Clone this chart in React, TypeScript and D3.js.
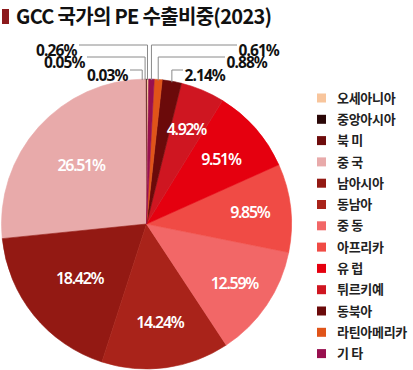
import * as d3 from 'd3';

// 2023 GCC PE export share by region (%), counter-clockwise from 12 o'clock
const categories = ['오세아니아', '중앙아시아', '북 미', '중 국', '남아시아', '동남아', '중 동', '아프리카', '유 럽', '튀르키예', '동북아', '라틴아메리카', '기 타'];
const shares = [0.26, 0.05, 0.03, 26.51, 18.42, 14.24, 12.59, 9.85, 9.51, 4.92, 2.14, 0.88, 0.61];
const colors = ['#f8c59c', '#2a0707', '#6e0c0c', '#e8aaaa', '#931913', '#a9231a', '#f26767', '#f04b45', '#e5000f', '#cf1621', '#6b0a0a', '#e05419', '#98104f'];

const title = 'GCC 국가의 PE 수출비중(2023)';

// layout
const W = 413;
const H = 370;
const cx = 146.5;
const cy = 224;
const R = 145;
const rot = 0.015;

// small slices are labelled outside with leader lines
const outside: Record<string, { ly: number; side: 'left' | 'right'; end: number; nudge: number }> = {
  '오세아니아': { ly: 45, side: 'left', end: 79, nudge: 0 },
  '중앙아시아': { ly: 57, side: 'left', end: 87, nudge: -1 },
  '북 미': { ly: 70, side: 'left', end: 130, nudge: -3.5 },
  '기 타': { ly: 45, side: 'right', end: 237, nudge: 0 },
  '라틴아메리카': { ly: 57, side: 'right', end: 225, nudge: 0 },
  '동북아': { ly: 70, side: 'right', end: 183, nudge: 0 },
};

// label distance from centre for the inside labels
const labelRadius: Record<string, number> = {
  '중 국': 88,
  '남아시아': 86,
  '동남아': 99,
  '중 동': 106,
  '아프리카': 104,
  '유 럽': 99,
  '튀르키예': 103,
};

const fmt = (v: number) => `${v.toFixed(2)}%`;

export default function App() {
  const data = categories.map((c, i) => ({ name: c, value: shares[i] }));
  const color = d3.scaleOrdinal<string, string>().domain(categories).range(colors);

  const pie = d3
    .pie<{ name: string; value: number }>()
    .sort(null)
    .value((d) => d.value)
    .startAngle(rot)
    .endAngle(rot - 2 * Math.PI);
  const arcs = pie(data);

  const arc = d3.arc<d3.PieArcDatum<{ name: string; value: number }>>().innerRadius(0).outerRadius(R);

  const labelFont = "'Noto Sans', 'Noto Sans CJK KR', sans-serif";

  return (
    <div style={{ position: 'absolute', left: 0, top: 0 }}>
      <svg width={W} height={H} style={{ display: 'block', background: '#fff' }}>
        {/* title */}
        <rect x={2} y={9} width={7} height={15} fill="#8c1a1c" />
        <text
          x={16}
          y={23.5}
          fontFamily="'Noto Sans CJK KR', 'Noto Sans', sans-serif"
          fontWeight={700}
          fontSize={20}
          letterSpacing={-0.7}
          fill="#111"
        >
          {title}
        </text>

        {/* slices */}
        <g transform={`translate(${cx},${cy})`}>
          {arcs.map((a) => (
            <path key={a.data.name} d={arc(a) || ''} fill={color(a.data.name)} stroke={color(a.data.name)} strokeWidth={0.6} />
          ))}

          {/* inside labels */}
          {arcs
            .filter((a) => !outside[a.data.name])
            .map((a) => {
              const r = labelRadius[a.data.name] ?? 98;
              const [x, y] = d3.arc<any>().innerRadius(r).outerRadius(r).centroid(a);
              return (
                <text
                  key={a.data.name}
                  x={x}
                  y={y}
                  dy="0.36em"
                  textAnchor="middle"
                  fontFamily={labelFont}
                  fontWeight={600}
                  fontSize={16}
                  letterSpacing={-1.3}
                  fill="#fff"
                >
                  {fmt(a.data.value)}
                </text>
              );
            })}
        </g>

        {/* outside labels with leader lines */}
        {arcs
          .filter((a) => outside[a.data.name])
          .map((a) => {
            const o = outside[a.data.name];
            const mid = (a.startAngle + a.endAngle) / 2;
            const px = cx + R * Math.sin(mid) + o.nudge;
            const py = cy - Math.sqrt(R * R - (px - cx) * (px - cx));
            const tx = o.side === 'left' ? o.end - 2.5 : o.end + 1.5;
            return (
              <g key={a.data.name}>
                <polyline
                  points={`${px},${py + 1} ${px},${o.ly} ${o.end},${o.ly}`}
                  fill="none"
                  stroke="#8a8a8a"
                  strokeWidth={1}
                />
                <text
                  x={tx}
                  y={o.ly + 11.2}
                  textAnchor={o.side === 'left' ? 'end' : 'start'}
                  fontFamily={labelFont}
                  fontWeight={700}
                  fontSize={15.5}
                  letterSpacing={-0.9}
                  fill="#111"
                >
                  {fmt(a.data.value)}
                </text>
              </g>
            );
          })}

        {/* legend */}
        <g transform="translate(317,98)">
          {categories.map((c, i) => (
            <g key={c} transform={`translate(0,${i * 21.3})`}>
              <rect x={0} y={-4.5} width={9} height={9} fill={color(c)} />
              <text
                x={20}
                y={0}
                dy="0.36em"
                fontFamily="'Noto Sans CJK KR', sans-serif"
                fontWeight={700}
                fontSize={13}
                letterSpacing={-0.3}
                fill="#222"
              >
                {c}
              </text>
            </g>
          ))}
        </g>
      </svg>
    </div>
  );
}
